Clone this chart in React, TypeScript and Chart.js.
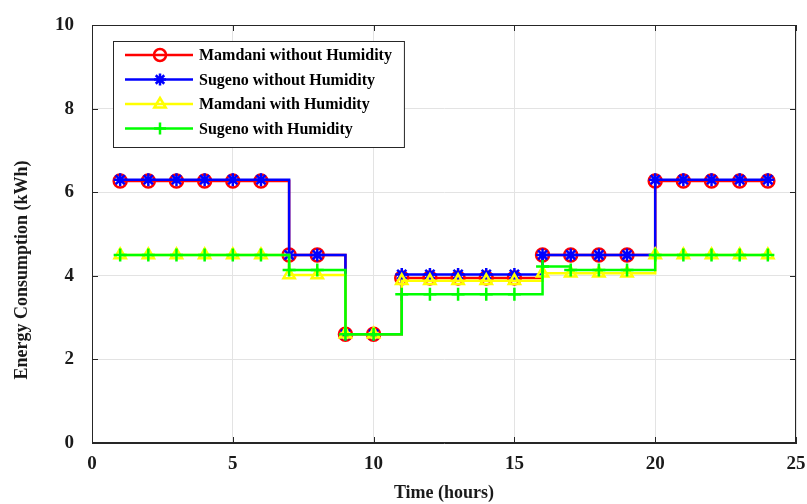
import React, { useEffect, useRef } from 'react';
import { Chart, registerables } from 'chart.js';

Chart.register(...registerables);

const hours = [1, 2, 3, 4, 5, 6, 7, 8, 9, 10, 11, 12, 13, 14, 15, 16, 17, 18, 19, 20, 21, 22, 23, 24];
const mamdaniWithoutHumidity = [6.27, 6.27, 6.27, 6.27, 6.27, 6.27, 4.5, 4.5, 2.6, 2.6, 3.95, 3.95, 3.95, 3.95, 3.95, 4.5, 4.5, 4.5, 4.5, 6.27, 6.27, 6.27, 6.27, 6.27];
const sugenoWithoutHumidity = [6.3, 6.3, 6.3, 6.3, 6.3, 6.3, 4.5, 4.5, 2.6, 2.6, 4.03, 4.03, 4.03, 4.03, 4.03, 4.5, 4.5, 4.5, 4.5, 6.3, 6.3, 6.3, 6.3, 6.3];
const mamdaniWithHumidity = [4.5, 4.5, 4.5, 4.5, 4.5, 4.5, 4.02, 4.02, 2.6, 2.6, 3.88, 3.88, 3.88, 3.88, 3.88, 4.06, 4.06, 4.06, 4.06, 4.5, 4.5, 4.5, 4.5, 4.5];
const sugenoWithHumidity = [4.5, 4.5, 4.5, 4.5, 4.5, 4.5, 4.14, 4.14, 2.6, 2.6, 3.56, 3.56, 3.56, 3.56, 3.56, 4.22, 4.14, 4.14, 4.14, 4.5, 4.5, 4.5, 4.5, 4.5];

const seriesLabels = ['Mamdani without Humidity', 'Sugeno without Humidity', 'Mamdani with Humidity', 'Sugeno with Humidity'];
const seriesColors = ['#ff0000', '#0000ff', '#ffff00', '#00ff00'];
const seriesMarkers = ['circle', 'star', 'triangle', 'cross'];
const seriesValues = [mamdaniWithoutHumidity, sugenoWithoutHumidity, mamdaniWithHumidity, sugenoWithHumidity];

const xTicks = [0, 5, 10, 15, 20, 25];
const yTicks = [0, 2, 4, 6, 8, 10];
const xTitle = 'Time (hours)';
const yTitle = 'Energy Consumption (kWh)';

const FONT = "'Liberation Serif', 'Times New Roman', serif";

function drawMarker(ctx: CanvasRenderingContext2D, style: string, x: number, y: number, r: number, color: string) {
  ctx.save();
  ctx.strokeStyle = color;
  ctx.lineWidth = 2.5;
  ctx.beginPath();
  if (style === 'circle') {
    ctx.arc(x, y, r, 0, Math.PI * 2);
  } else if (style === 'star') {
    for (let k = 0; k < 4; k++) {
      const a = (k * Math.PI) / 4;
      ctx.moveTo(x - r * Math.cos(a), y - r * Math.sin(a));
      ctx.lineTo(x + r * Math.cos(a), y + r * Math.sin(a));
    }
  } else if (style === 'triangle') {
    ctx.moveTo(x, y - r);
    ctx.lineTo(x + r * 0.95, y + r * 0.6);
    ctx.lineTo(x - r * 0.95, y + r * 0.6);
    ctx.closePath();
  } else {
    ctx.moveTo(x - r, y);
    ctx.lineTo(x + r, y);
    ctx.moveTo(x, y - r);
    ctx.lineTo(x, y + r);
  }
  ctx.stroke();
  ctx.restore();
}

const framePlugin = {
  id: 'frame',
  afterDraw(chart: any) {
    const { ctx, chartArea } = chart;
    const { left, right, top, bottom } = chartArea;
    const xs = chart.scales.x;
    const ys = chart.scales.y;
    ctx.save();
    ctx.strokeStyle = '#262626';
    ctx.lineWidth = 1;
    ctx.strokeRect(left + 0.5, top + 0.5, right - left - 1, bottom - top - 1);
    ctx.beginPath();
    const tl = 6;
    xTicks.forEach((v) => {
      const px = Math.round(xs.getPixelForValue(v)) + 0.5;
      ctx.moveTo(px, bottom);
      ctx.lineTo(px, bottom - tl);
      ctx.moveTo(px, top);
      ctx.lineTo(px, top + tl);
    });
    yTicks.forEach((v) => {
      const py = Math.round(ys.getPixelForValue(v)) + 0.5;
      ctx.moveTo(left, py);
      ctx.lineTo(left + tl, py);
      ctx.moveTo(right, py);
      ctx.lineTo(right - tl, py);
    });
    ctx.stroke();

    // y-axis title
    ctx.save();
    ctx.translate(22, (top + bottom) / 2 + 36);
    ctx.rotate(-Math.PI / 2);
    ctx.font = `bold 18px ${FONT}`;
    ctx.fillStyle = '#1a1a1a';
    ctx.textAlign = 'center';
    ctx.textBaseline = 'middle';
    ctx.fillText(yTitle, 0, 0);
    ctx.restore();

    // legend box
    ctx.font = `bold 16px ${FONT}`;
    const maxW = Math.max(...seriesLabels.map((l) => ctx.measureText(l).width));
    const x0 = left + 21;
    const y0 = top + 16;
    const w = 86 + maxW + 12;
    const h = 106;
    ctx.fillStyle = '#ffffff';
    ctx.fillRect(x0, y0, w, h);
    ctx.strokeStyle = '#262626';
    ctx.lineWidth = 1;
    ctx.strokeRect(x0 + 0.5, y0 + 0.5, w, h);
    ctx.textBaseline = 'middle';
    ctx.textAlign = 'left';
    seriesLabels.forEach((lab, i) => {
      const yy = y0 + 14 + i * 24.5;
      ctx.strokeStyle = seriesColors[i];
      ctx.lineWidth = 2.5;
      ctx.beginPath();
      ctx.moveTo(x0 + 12, yy);
      ctx.lineTo(x0 + 80, yy);
      ctx.stroke();
      drawMarker(ctx, seriesMarkers[i], x0 + 47, yy, 6, seriesColors[i]);
      ctx.fillStyle = '#000000';
      ctx.fillText(lab, x0 + 86, yy + 1);
    });
    ctx.restore();
  },
};

export default function App() {
  const ref = useRef<HTMLCanvasElement | null>(null);

  useEffect(() => {
    if (!ref.current) return;
    const datasets = seriesValues.map((vals, i) => ({
      label: seriesLabels[i],
      data: hours.map((h, j) => ({ x: h, y: vals[j] })),
      borderColor: seriesColors[i],
      backgroundColor: 'transparent',
      borderWidth: 2.5,
      stepped: true as const,
      pointStyle: seriesMarkers[i] as any,
      pointRadius: 6.5,
      pointBorderWidth: 2.5,
      pointBorderColor: seriesColors[i],
      pointBackgroundColor: 'transparent',
      order: 3 - i,
      fill: false,
    }));
    const chart = new Chart(ref.current, {
      type: 'line',
      data: { datasets },
      options: {
        responsive: false,
        animation: false,
        layout: { padding: { top: 25, right: 11, left: 0, bottom: 0 } },
        plugins: { legend: { display: false }, tooltip: { enabled: false } },
        scales: {
          x: {
            type: 'linear',
            min: 0,
            max: 25,
            afterFit: (s: any) => { s.height = 61; s.paddingLeft = 0; s.paddingRight = 0; },
            afterBuildTicks: (s: any) => { s.ticks = xTicks.map((v) => ({ value: v })); },
            ticks: {
              color: '#1a1a1a',
              font: { family: FONT, size: 19, weight: 'bold' },
              padding: 10,
              maxRotation: 0,
            },
            grid: { color: '#e3e3e3', drawTicks: false },
            border: { display: true, color: '#262626' },
            title: {
              display: true,
              text: xTitle,
              color: '#1a1a1a',
              font: { family: FONT, size: 18, weight: 'bold' },
              padding: { top: 0, bottom: 0 },
            },
          },
          y: {
            type: 'linear',
            min: 0,
            max: 10,
            afterFit: (s: any) => { s.width = 92; s.paddingTop = 0; s.paddingBottom = 0; },
            afterBuildTicks: (s: any) => { s.ticks = yTicks.map((v) => ({ value: v })); },
            ticks: {
              color: '#1a1a1a',
              font: { family: FONT, size: 19, weight: 'bold' },
              padding: 18,
            },
            grid: { color: '#e3e3e3', drawTicks: false },
            border: { display: true, color: '#262626' },
          },
        },
      },
      plugins: [framePlugin],
    });
    return () => chart.destroy();
  }, []);

  return (
    <div style={{ position: 'fixed', left: 0, top: 0, width: 807, height: 504, background: '#ffffff' }}>
      <canvas ref={ref} width={807} height={504} />
    </div>
  );
}
